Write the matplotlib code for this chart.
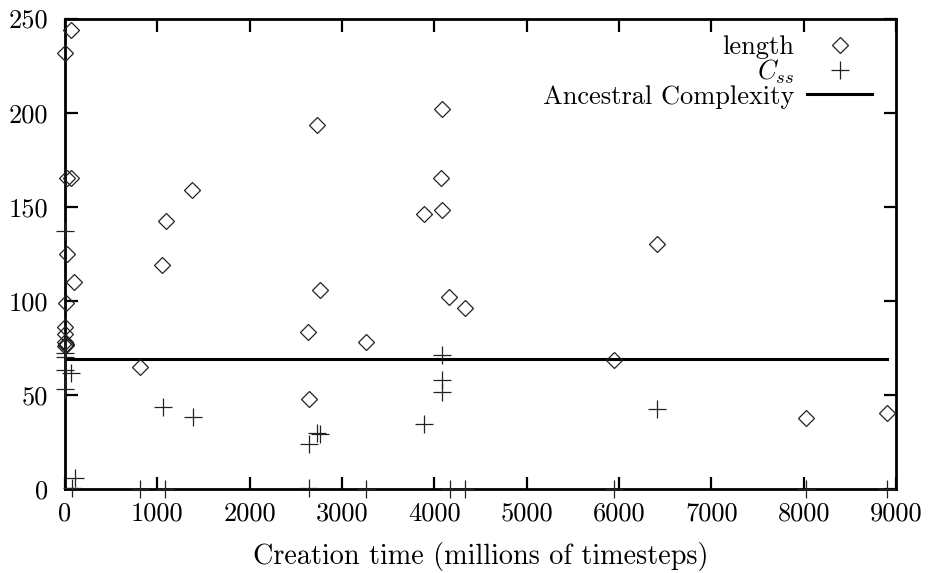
import matplotlib
matplotlib.use("Agg")
import matplotlib.pyplot as plt

plt.rcParams['font.family'] = ['cmr10', 'DejaVu Serif']
plt.rcParams['mathtext.fontset'] = 'cm'
plt.rcParams['axes.formatter.use_mathtext'] = True

# length (diamonds)
length_x = [70, 0, 25, 60, 1093, 25, 100, 7, 0, 0, 0, 10, 5, 15, 1053, 812,
            2633, 3258, 2641, 2734, 4087, 4076, 3885, 4087, 2763, 4160, 4336,
            1374, 6410, 5942, 8020, 8907]
length_y = [244, 231.5, 165.5, 165.5, 142.6, 125, 110, 99, 86, 82.3, 78.4, 76.6,
            76, 77, 119.3, 65, 83.5, 78.2, 48, 193.6, 202, 165.5, 146.2, 148.3,
            105.8, 102.3, 96.4, 159, 130.3, 68.7, 38, 40.4]

# C_ss (plus signs)
css_x = [0, 0, 0, 0, 62, 0, 108, 72, 812, 1080, 1057, 1382, 2644, 2724, 2767,
         2644, 3258, 4087, 4083, 4087, 3885, 4167, 4336, 6414, 5942, 8020, 8907]
css_y = [137.2, 72.2, 70, 63.4, 61.6, 53.1, 5.8, 0.5, 0, 0, 43.5, 38.2, 23.9,
         29.7, 29.4, 0.5, 0, 71.3, 58, 51.8, 34.5, 0, 0, 42.5, 0, 0, 0]

# Ancestral complexity
anc_x = [0, 8900]
anc_y = [69, 69]

x_ticks = [0, 1000, 2000, 3000, 4000, 5000, 6000, 7000, 8000, 9000]
y_ticks = [0, 50, 100, 150, 200, 250]

fig = plt.figure(figsize=(9.32, 5.73), dpi=100)
ax = fig.add_axes([65/932, 1-489.3/573, (896-65)/932, (489.3-18.5)/573])

ax.plot(length_x, length_y, linestyle='none', marker='D', markersize=8.5,
        markerfacecolor='none', markeredgecolor='#222222', markeredgewidth=0.9,
        clip_on=False, label='length', zorder=3)
ax.plot(css_x, css_y, linestyle='none', marker='+', markersize=13,
        markeredgecolor='#222222', markeredgewidth=0.9,
        clip_on=False, label='$C_{ss}$', zorder=3)
ax.plot(anc_x, anc_y, color='black', linewidth=2.2, label='Ancestral Complexity',
        zorder=2)

ax.set_xlim(0, 9000)
ax.set_ylim(0, 250)
ax.set_xticks(x_ticks)
ax.set_yticks(y_ticks)
ax.set_xticklabels([str(v) for v in x_ticks])
ax.set_yticklabels([str(v) for v in y_ticks])
ax.tick_params(direction='in', length=9, width=1.6, top=True, right=True,
               labelsize=19, colors='black')
ax.tick_params(axis='y', pad=12)
ax.tick_params(axis='x', pad=9)
for s in ax.spines.values():
    s.set_linewidth(2.0)

ax.set_xlabel('Creation time (millions of timesteps)', fontsize=20.3, labelpad=12)

leg = ax.legend(loc='upper right', bbox_to_anchor=(0.99, 0.998), frameon=False,
                markerfirst=False, fontsize=19, handlelength=2.45,
                handletextpad=0.5, labelspacing=-0.05, borderaxespad=0.2)

fig.savefig('out.png', dpi=100)
